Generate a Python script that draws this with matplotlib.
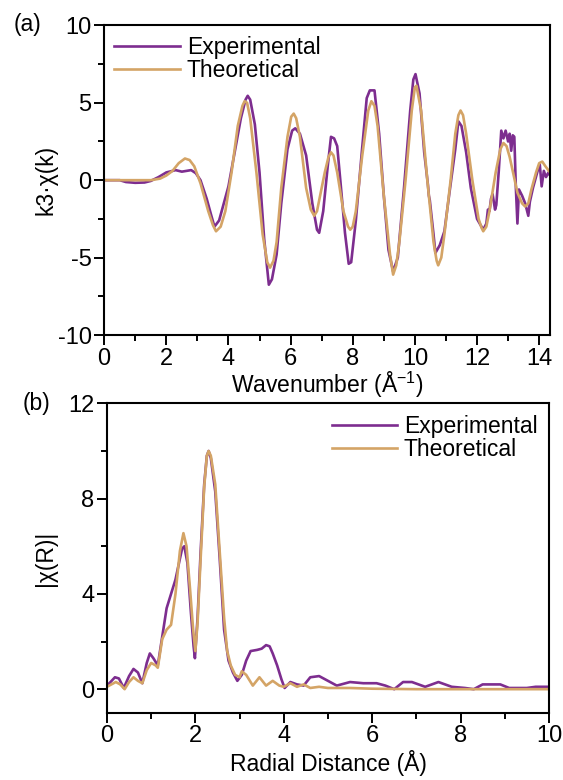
import matplotlib

matplotlib.use("Agg")

import matplotlib.pyplot as plt
from matplotlib.ticker import MultipleLocator

PURPLE = "#7d2d8f"
TAN = "#d4a466"

# (a) k-space
k_exp = [0.0, 0.3, 0.5, 0.7, 1.0, 1.3, 1.5, 1.75, 2.0, 2.3, 2.5, 2.65, 2.8, 2.95, 3.1, 3.3,
         3.45, 3.55, 3.7, 3.85, 4.0, 4.2, 4.4, 4.55, 4.62, 4.7, 4.85, 5.0, 5.15, 5.3, 5.4, 5.55,
         5.7, 5.9, 6.05, 6.15, 6.3, 6.5, 6.7, 6.85, 6.92, 7.05, 7.2, 7.3, 7.4, 7.5, 7.6, 7.75,
         7.87, 7.95, 8.1, 8.3, 8.45, 8.55, 8.7, 8.85, 9.0, 9.15, 9.3, 9.45, 9.65, 9.85, 9.95,
         10.02, 10.15, 10.3, 10.42, 10.45, 10.48, 10.6, 10.66, 10.8, 10.95, 11.1, 11.3, 11.4,
         11.5, 11.65, 11.8, 12.0, 12.2, 12.3, 12.35, 12.4, 12.45, 12.5, 12.58, 12.62, 12.7,
         12.78, 12.85, 12.92, 13.0, 13.05, 13.1, 13.15, 13.2, 13.25, 13.3, 13.35, 13.45,
         13.55, 13.65, 13.7, 13.8, 13.95, 14.02, 14.08, 14.15, 14.22, 14.3, 14.35]
chi_exp = [0.0, 0.0, 0.0, -0.12, -0.17, -0.15, -0.05, 0.2, 0.5, 0.65, 0.55, 0.6, 0.65, 0.45,
           0.0, -1.2, -2.3, -3.0, -2.6, -1.5, -0.4, 1.8, 4.0, 5.2, 5.45, 5.2, 3.6, 0.5, -3.8,
           -6.75, -6.4, -4.8, -1.5, 2.0, 3.2, 3.35, 3.0, 1.6, -1.5, -3.2, -3.4, -2.0, 1.0, 2.8,
           2.7, 2.2, 0.0, -3.4, -5.4, -5.3, -2.6, 2.0, 5.3, 5.8, 5.8, 3.0, -1.0, -4.5, -5.9,
           -5.0, -0.5, 4.5, 6.5, 6.85, 5.6, 1.8, -0.3, -1.0, -1.3, -3.5, -4.7, -4.2, -3.3, -1.0,
           2.0, 3.8, 3.5, 1.8, -0.5, -2.5, -3.2, -2.8, -1.9, -2.0, -1.2, -0.9, -1.9, -1.6, 0.6,
           3.2, 2.7, 3.2, 2.5, 3.0, 1.9, 2.9, 2.8, -0.5, -2.8, -0.6, -1.0, -1.5, -2.3, -1.4,
           -0.5, 0.6, 1.0, -0.4, 0.6, 0.2, 0.5, 0.3]

k_th = [0.0, 0.5, 1.0, 1.5, 1.8, 2.0, 2.2, 2.4, 2.6, 2.75, 2.9, 3.1, 3.35, 3.5, 3.6, 3.75,
        3.9, 4.1, 4.3, 4.45, 4.52, 4.6, 4.7, 4.9, 5.1, 5.25, 5.34, 5.45, 5.55, 5.7, 5.9, 6.02,
        6.1, 6.18, 6.3, 6.5, 6.65, 6.76, 6.85, 6.95, 7.1, 7.22, 7.3, 7.38, 7.5, 7.7, 7.85,
        7.92, 8.0, 8.1, 8.3, 8.5, 8.6, 8.7, 8.8, 9.0, 9.2, 9.3, 9.4, 9.5, 9.7, 9.9, 10.0,
        10.05, 10.2, 10.4, 10.6, 10.7, 10.75, 10.85, 10.95, 11.15, 11.3, 11.4, 11.47, 11.55,
        11.65, 11.85, 12.05, 12.15, 12.2, 12.3, 12.4, 12.6, 12.75, 12.85, 12.95, 13.05, 13.3,
        13.45, 13.55, 13.65, 13.75, 13.9, 14.0, 14.1, 14.2, 14.35]
chi_th = [0.0, 0.0, 0.0, 0.0, 0.1, 0.3, 0.6, 1.1, 1.4, 1.3, 0.9, -0.2, -2.0, -2.9, -3.3, -3.0,
          -2.0, 0.5, 3.5, 4.8, 5.1, 5.0, 4.0, 0.5, -3.5, -5.3, -5.65, -5.2, -4.0, -0.5, 2.8,
          4.1, 4.3, 4.0, 2.8, -0.5, -1.9, -2.3, -2.0, -1.0, 0.5, 1.5, 1.8, 1.6, 0.5, -2.0,
          -3.0, -3.2, -3.0, -2.0, 1.5, 4.5, 5.1, 4.8, 3.5, -1.0, -4.8, -6.1, -5.5, -4.0, 0.0,
          4.5, 6.0, 6.1, 4.5, 0.0, -4.0, -5.2, -5.5, -5.0, -3.5, 0.0, 3.0, 4.2, 4.5, 4.2, 3.0,
          0.0, -2.5, -3.1, -3.3, -3.0, -2.0, 0.5, 2.0, 2.4, 2.2, 1.5, -0.8, -1.5, -1.7, -1.5,
          -0.6, 0.5, 1.1, 1.2, 0.9, 0.5]

# (b) R-space
r_exp = [0.0, 0.08, 0.18, 0.27, 0.38, 0.5, 0.6, 0.7, 0.8, 0.9, 0.97, 1.05, 1.15, 1.25, 1.35,
         1.45, 1.55, 1.63, 1.7, 1.75, 1.82, 1.9, 1.96, 1.99, 2.05, 2.12, 2.2, 2.26, 2.3, 2.35,
         2.45, 2.55, 2.65, 2.75, 2.85, 2.95, 3.05, 3.15, 3.25, 3.4, 3.5, 3.6, 3.68, 3.75, 3.85,
         3.95, 4.02, 4.15, 4.3, 4.45, 4.6, 4.8, 5.0, 5.2, 5.5, 5.8, 6.1, 6.3, 6.5, 6.7, 6.9,
         7.2, 7.5, 7.8, 8.1, 8.3, 8.5, 8.9, 9.1, 9.5, 9.7, 10.0]
x_exp = [0.15, 0.3, 0.5, 0.45, 0.05, 0.55, 0.85, 0.7, 0.25, 1.1, 1.5, 1.3, 1.0, 2.2, 3.4,
         4.0, 4.6, 5.3, 5.9, 6.0, 5.3, 3.2, 1.8, 1.3, 3.0, 5.8, 8.6, 9.8, 10.0, 9.7, 8.3, 5.5,
         2.5, 1.2, 0.7, 0.35, 0.6, 1.2, 1.6, 1.65, 1.7, 1.85, 1.8, 1.5, 1.0, 0.4, 0.05, 0.3,
         0.2, 0.15, 0.5, 0.55, 0.35, 0.15, 0.3, 0.25, 0.25, 0.15, 0.0, 0.3, 0.3, 0.1, 0.3,
         0.1, 0.05, 0.0, 0.2, 0.2, 0.05, 0.05, 0.1, 0.1]

r_th = [0.0, 0.1, 0.2, 0.3, 0.4, 0.5, 0.6, 0.7, 0.8, 0.9, 1.0, 1.1, 1.15, 1.25, 1.35, 1.45,
        1.55, 1.65, 1.73, 1.8, 1.88, 1.95, 2.0, 2.05, 2.12, 2.2, 2.26, 2.3, 2.35, 2.45, 2.55,
        2.65, 2.72, 2.8, 2.9, 3.0, 3.05, 3.15, 3.3, 3.45, 3.6, 3.75, 3.9, 4.0, 4.15, 4.3,
        4.45, 4.6, 4.8, 5.0, 5.5, 6.0, 7.0, 8.0, 9.0, 10.0]
x_th = [0.1, 0.2, 0.3, 0.2, 0.0, 0.3, 0.5, 0.35, 0.25, 0.8, 1.1, 1.0, 0.9, 2.1, 2.5, 2.7,
        4.0, 5.8, 6.55, 6.0, 4.2, 2.5, 1.6, 2.8, 5.5, 8.5, 9.8, 10.0, 9.8, 8.6, 5.8, 3.0, 1.6,
        1.0, 0.6, 0.5, 0.75, 0.6, 0.15, 0.5, 0.15, 0.35, 0.15, 0.1, 0.25, 0.1, 0.2, 0.05,
        0.1, 0.05, 0.05, 0.02, 0.0, 0.0, 0.0, 0.0]


def setup_style() -> None:
    plt.rcParams.update(
        {
            "font.family": ["Liberation Sans", "DejaVu Sans"],
            "font.size": 16.5,
            "axes.unicode_minus": False,
            "mathtext.fontset": "custom",
            "mathtext.rm": "Liberation Sans",
            "mathtext.it": "Liberation Sans:italic",
            "axes.linewidth": 1.5,
            "xtick.major.width": 1.4,
            "ytick.major.width": 1.4,
            "xtick.minor.width": 1.4,
            "ytick.minor.width": 1.4,
            "xtick.major.size": 7,
            "ytick.major.size": 7,
            "xtick.minor.size": 4,
            "ytick.minor.size": 4,
            "xtick.major.pad": 2,
            "ytick.major.pad": 2,
        }
    )


def style_axis(ax) -> None:
    ax.tick_params(which="both", direction="out", labelsize=17)
    ax.tick_params(which="both", top=False, right=False)


def main() -> None:
    fig = plt.figure(figsize=(5.63, 7.8), dpi=100)

    ax0 = fig.add_axes([0.185, 0.5705, 0.792, 0.397])
    ax0.plot(k_exp, chi_exp, color=PURPLE, lw=1.9, label="Experimental", solid_joinstyle="round")
    ax0.plot(k_th, chi_th, color=TAN, lw=1.9, label="Theoretical", solid_joinstyle="round")
    ax0.set_xlim(0, 14.35)
    ax0.set_ylim(-10, 10)
    ax0.xaxis.set_major_locator(MultipleLocator(2))
    ax0.xaxis.set_minor_locator(MultipleLocator(1))
    ax0.yaxis.set_major_locator(MultipleLocator(5))
    ax0.yaxis.set_minor_locator(MultipleLocator(2.5))
    style_axis(ax0)
    ax0.set_xlabel("Wavenumber (Å$^{-1}$)", labelpad=0)
    ax0.set_ylabel("k3·χ(k)", labelpad=0)
    ax0.legend(loc="upper left", frameon=False, handlelength=2.85, handletextpad=0.3,
               labelspacing=0.02, borderaxespad=0.15, borderpad=0.3)
    fig.text(0.025, 0.969, "(a)", ha="left", va="center")

    ax1 = fig.add_axes([0.190, 0.0859, 0.785, 0.397])
    ax1.plot(r_exp, x_exp, color=PURPLE, lw=1.9, label="Experimental", solid_joinstyle="round")
    ax1.plot(r_th, x_th, color=TAN, lw=1.9, label="Theoretical", solid_joinstyle="round")
    ax1.set_xlim(0, 10)
    ax1.set_ylim(-1, 12)
    ax1.xaxis.set_major_locator(MultipleLocator(2))
    ax1.xaxis.set_minor_locator(MultipleLocator(1))
    ax1.yaxis.set_major_locator(MultipleLocator(4))
    ax1.yaxis.set_minor_locator(MultipleLocator(2))
    style_axis(ax1)
    ax1.set_xlabel("Radial Distance (Å)", labelpad=2)
    ax1.set_ylabel("|χ(R)|", labelpad=8)
    ax1.legend(loc="upper right", frameon=False, handlelength=2.85, handletextpad=0.3,
               labelspacing=0.02, borderaxespad=0.1, borderpad=0.4)
    fig.text(0.041, 0.483, "(b)", ha="left", va="center")

    fig.savefig("out.png", dpi=100)


if __name__ == "__main__":
    setup_style()
    main()
